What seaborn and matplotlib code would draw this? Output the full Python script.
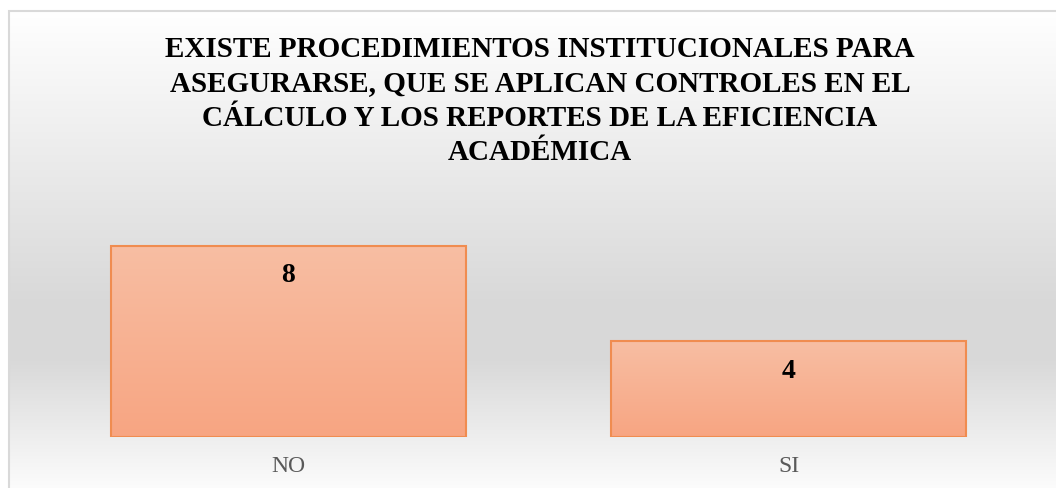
import numpy as np
import seaborn as sns
import matplotlib.pyplot as plt
from matplotlib.colors import to_rgb
from matplotlib.patches import Rectangle

categories = ['NO', 'SI']
counts = [8, 4]
title = ("EXISTE PROCEDIMIENTOS INSTITUCIONALES PARA\n"
         "ASEGURARSE, QUE SE APLICAN CONTROLES EN EL\n"
         "CÁLCULO Y LOS REPORTES DE LA EFICIENCIA\n"
         "ACADÉMICA")

sns.set_style("white")
plt.rcParams['font.family'] = ['Liberation Serif', 'DejaVu Serif']

W, H = 1056, 488
fig = plt.figure(figsize=(W / 100, H / 100), dpi=100)

# chart area background: white -> light gray -> white
bg = fig.add_axes([0, 0, 1, 1], zorder=-5)
v = np.interp(np.arange(H), [0, 10, 300, 360, 485],
              [1.0, 1.0, 0.85, 0.85, 0.985])
img = np.ones((H, W, 3))
img[:, 9:, :] = v[:, None, None]
bg.imshow(img, extent=[0, W, 0, H], origin='upper', aspect='auto')
bg.add_patch(Rectangle((8.5, -20), W + 50, H - 10.5 + 20, fill=False,
                       edgecolor='#d9d9d9', linewidth=1.5))
bg.set_xlim(0, W)
bg.set_ylim(0, H)
bg.axis('off')

ax = fig.add_axes([38.5 / W, (H - 437) / H, 1000 / W, (437 - 198) / H])
ax.patch.set_alpha(0)
sns.barplot(x=categories, y=counts, ax=ax, width=0.71, color='#f7b093',
            edgecolor='#f08c50', linewidth=1.5, saturation=1)

top_c = np.array(to_rgb('#f8bea3'))
bot_c = np.array(to_rgb('#f7a582'))
t = np.linspace(0, 1, 100)[:, None]
grad = (top_c * (1 - t) + bot_c * t)[:, None, :]
for p, val in zip(ax.patches, counts):
    x0, w, h = p.get_x(), p.get_width(), p.get_height()
    im = ax.imshow(grad, extent=[x0, x0 + w, 0, h], origin='upper',
                   aspect='auto', zorder=p.get_zorder() - 0.1)
    im.set_clip_path(p)
    p.set_facecolor('none')
    ax.annotate(str(val), (x0 + w / 2, h), xytext=(0, -30),
                textcoords='offset pixels', ha='center', va='center',
                fontsize=20, fontweight='bold', color='black')

ax.set_xlim(-0.5, 1.5)
ax.set_ylim(0, 10)
ax.set_yticks([])
ax.set_xlabel('')
ax.tick_params(axis='x', length=0, pad=14, labelsize=17, labelcolor='#595959')
sns.despine(ax=ax, left=True, bottom=True)

fig.text(540 / W, 1 - 36 / H, title, ha='center', va='top', color='black',
         fontsize=21, fontweight='bold', linespacing=1.35)

fig.savefig('out.png', dpi=100)
